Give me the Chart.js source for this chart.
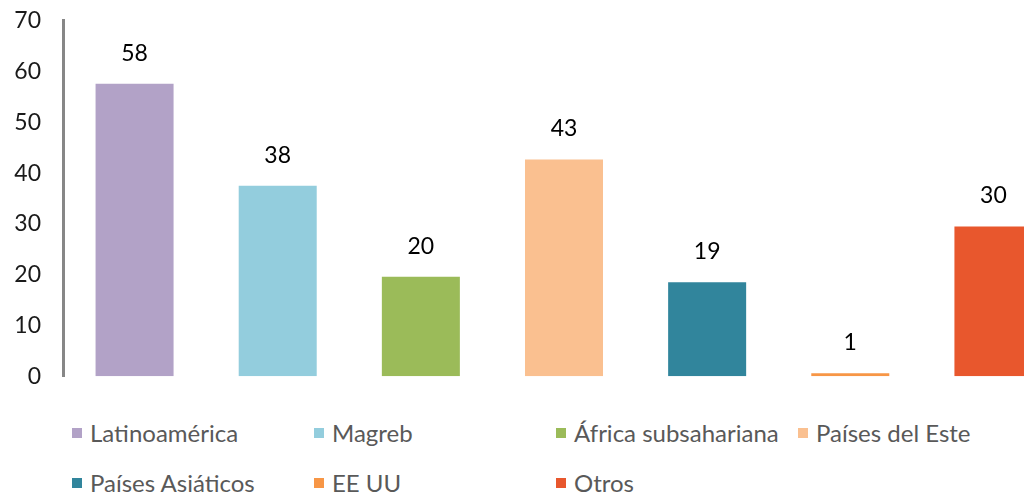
<!DOCTYPE html>
<html>
<head>
<meta charset="utf-8">
<script src="https://cdn.jsdelivr.net/npm/chart.js@4/dist/chart.umd.min.js"></script>
<style>
  html, body { margin: 0; padding: 0; background: #fff; overflow: hidden; }
  body { width: 1024px; height: 495px; position: relative; }
  #wrap { position: absolute; left: 0; top: -15px; width: 1065px; height: 427px; }
  .leg { position: absolute; font-family: Lato, sans-serif; font-size: 24px; color: #595959; white-space: nowrap; }
  .leg span.box { position: absolute; left: 0; width: 10px; height: 10px; }
  .leg span.txt { position: absolute; left: 18px; line-height: 28px; }
</style>
</head>
<body>
<div id="wrap"><canvas id="chart"></canvas></div>
<div id="legend"></div>
<script>
const categories = ['Latinoamérica', 'Magreb', 'África subsahariana', 'Países del Este', 'Países Asiáticos', 'EE UU', 'Otros'];
const values = [57.6, 37.5, 19.6, 42.7, 18.5, 0.6, 29.5];
const colors = ['#b2a2c7', '#93cddd', '#9bbb59', '#fac090', '#31859c', '#f79646', '#e8572d'];
const yTicks = [0, 10, 20, 30, 40, 50, 60, 70];

// value labels above the bars
const barLabels = {
  id: 'barLabels',
  afterDatasetsDraw(chart) {
    const c = chart.ctx;
    const meta = chart.getDatasetMeta(0);
    c.save();
    c.font = '23px Lato, sans-serif';
    c.fillStyle = '#000';
    c.textAlign = 'center';
    c.textBaseline = 'bottom';
    meta.data.forEach((bar, i) => {
      c.fillText(Math.round(values[i]).toString(), bar.x, bar.y - 19);
    });
    c.restore();
  }
};

const ctx = document.getElementById('chart').getContext('2d');
const chart = new Chart(ctx, {
  type: 'bar',
  data: {
    labels: categories,
    datasets: [
      { data: values, backgroundColor: colors, barPercentage: 0.545, categoryPercentage: 1 }
    ]
  },
  options: {
    responsive: true,
    maintainAspectRatio: false,
    animation: false,
    layout: { padding: { top: 6, bottom: 4, left: 0, right: 0 } },
    plugins: { legend: { display: false }, tooltip: { enabled: false } },
    scales: {
      x: { display: false },
      y: {
        min: 0,
        max: 70,
        afterBuildTicks: (scale) => { scale.ticks = yTicks.map(v => ({ value: v })); },
        afterFit: (scale) => { scale.width = 63; },
        grid: { display: false, drawTicks: false },
        border: { display: true, color: '#878787', width: 3 },
        ticks: { color: '#1a1a1a', font: { family: 'Lato', size: 23 }, padding: 22 }
      }
    }
  },
  plugins: [barLabels]
});

// legend laid out in a 4-column grid
const legend = document.getElementById('legend');
categories.forEach((name, i) => {
  const item = document.createElement('div');
  item.className = 'leg';
  item.style.left = (72 + (i % 4) * 242) + 'px';
  item.style.top = (428 + Math.floor(i / 4) * 50) + 'px';
  item.innerHTML = '<span class="box" style="background:' + colors[i] + '"></span>' +
    '<span class="txt" style="top:-9px">' + name + '</span>';
  legend.appendChild(item);
});
</script>
</body>
</html>
